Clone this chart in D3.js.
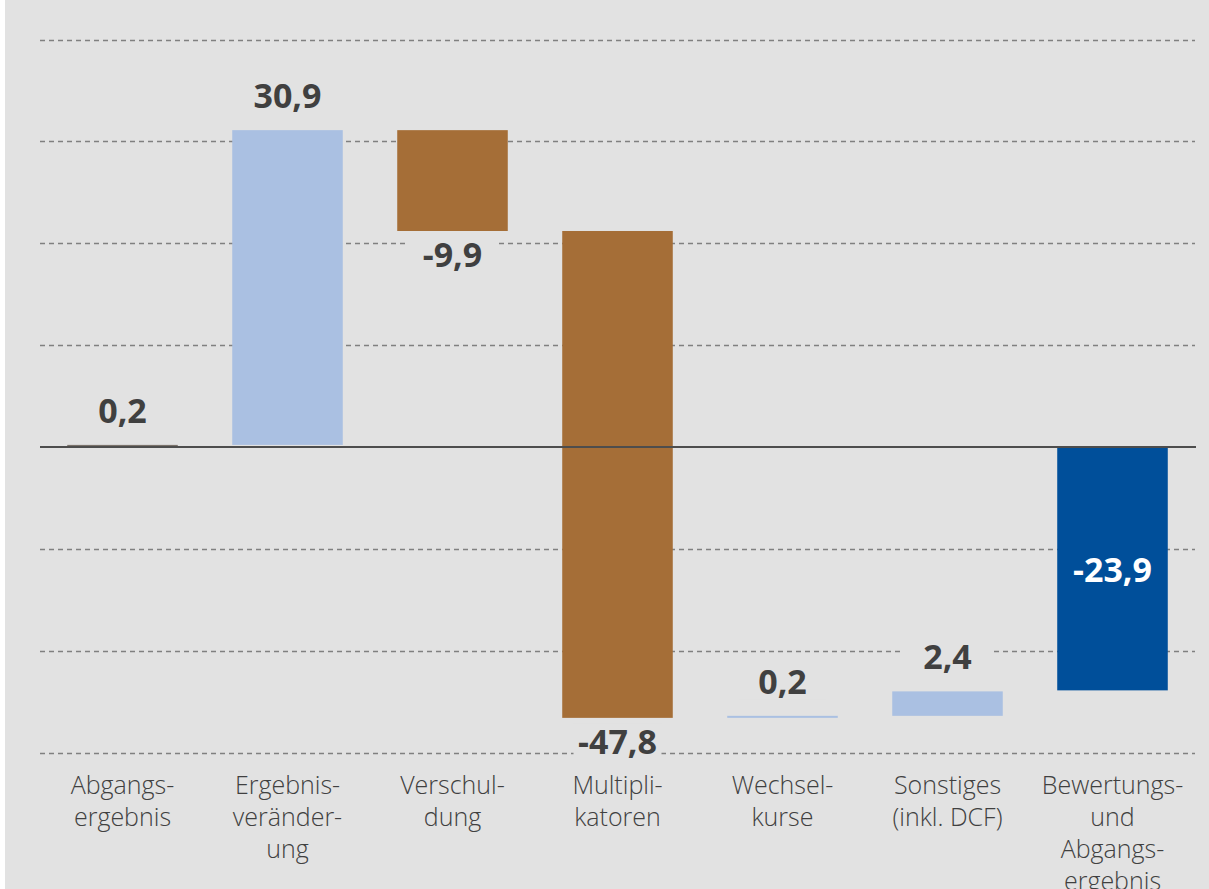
<!DOCTYPE html>
<html><head><meta charset="utf-8">
<script src="https://cdn.jsdelivr.net/npm/d3@7"></script>
<style>
html,body{margin:0;padding:0;background:#fff;}
svg{display:block;}
</style></head>
<body>
<script>
const categories = [
  ["Abgangs-","ergebnis"],
  ["Ergebnis-","veränder-","ung"],
  ["Verschul-","dung"],
  ["Multipli-","katoren"],
  ["Wechsel-","kurse"],
  ["Sonstiges","(inkl. DCF)"],
  ["Bewertungs-","und","Abgangs-","ergebnis"]
];
const values = [0.2, 30.9, -9.9, -47.8, 0.2, 2.4, -23.9];
const isTotal = [false, false, false, false, false, false, true];
const valueLabels = ["0,2","30,9","-9,9","-47,8","0,2","2,4","-23,9"];
const gridTicks = [-30,-20,-10,0,10,20,30,40];
const unitLabel = "(in Mio. €)";

const W = 1209, H = 889;
const svg = d3.select("body").append("svg").attr("width", W).attr("height", H);
svg.append("rect").attr("x",5).attr("y",0).attr("width",W-5).attr("height",H).attr("fill","#e2e2e2");

svg.append("text").attr("x",18).attr("y",-4).attr("font-family","Open Sans, sans-serif")
  .attr("font-size",24).attr("fill","#8a8a8a").attr("textLength",183).text(unitLabel);

const x = d3.scaleBand().domain(d3.range(values.length)).range([40,1195]).paddingInner(0.33).paddingOuter(0.165);
const y = d3.scaleLinear().domain([-30,40]).range([752.5,39.5]);

// grid
svg.append("g").selectAll("line").data(gridTicks.filter(d=>d!==0)).join("line")
  .attr("x1",40).attr("x2",1195).attr("y1",d=>Math.round(y(d))+0.5).attr("y2",d=>Math.round(y(d))+0.5)
  .attr("stroke","#808080").attr("stroke-width",1.3).attr("stroke-dasharray","5,4");

// waterfall computation
let run = 0;
const bars = values.map((v,i)=>{
  let start, end;
  if (isTotal[i]) { start = 0; end = v; }
  else { start = run; end = run + v; run = end; }
  return {i, v, start, end, lo: Math.min(start,end), hi: Math.max(start,end)};
});
const color = (d)=> d.i===0 ? "#7a726a" : isTotal[d.i] ? "#004f9a" : d.v < 0 ? "#a56e37" : "#aac0e2";

svg.append("g").selectAll("rect").data(bars).join("rect")
  .attr("x",d=>x(d.i)).attr("width",x.bandwidth())
  .attr("y",d=>y(d.hi)).attr("height",d=>Math.max(2,y(d.lo)-y(d.hi)))
  .attr("fill",color);

// zero line
svg.append("line").attr("x1",40).attr("x2",1196).attr("y1",y(0)).attr("y2",y(0))
  .attr("stroke","#4d4d4d").attr("stroke-width",2);

// value labels
const lg = svg.append("g").attr("font-family","Open Sans, sans-serif").attr("font-weight",700).attr("font-size",34).attr("text-anchor","middle");
bars.forEach(d=>{
  let ty, fill = "#404040";
  if (isTotal[d.i]) { ty = (y(d.hi)+y(d.lo))/2 + 13; fill = "#ffffff"; }
  else if (d.v >= 0) ty = y(d.hi) - 22;
  else ty = y(d.lo) + 36;
  const cx = x(d.i) + x.bandwidth()/2;
  if (!isTotal[d.i]) {
    lg.append("rect").attr("x",cx-44).attr("y",ty-30).attr("width",88).attr("height",36).attr("fill","#e2e2e2");
  }
  lg.append("text").attr("x",cx).attr("y",ty).attr("fill",fill).text(valueLabels[d.i]);
});

// category labels
const cg = svg.append("g").attr("font-family","Open Sans, sans-serif").attr("font-weight",300).attr("font-size",25).attr("fill","#404040").attr("text-anchor","middle");
categories.forEach((lines,i)=>{
  const t = cg.append("text").attr("x",x(i)+x.bandwidth()/2).attr("y",794);
  lines.forEach((ln,k)=>t.append("tspan").attr("x",x(i)+x.bandwidth()/2).attr("dy",k===0?0:32).text(ln));
});
</script>
</body></html>
